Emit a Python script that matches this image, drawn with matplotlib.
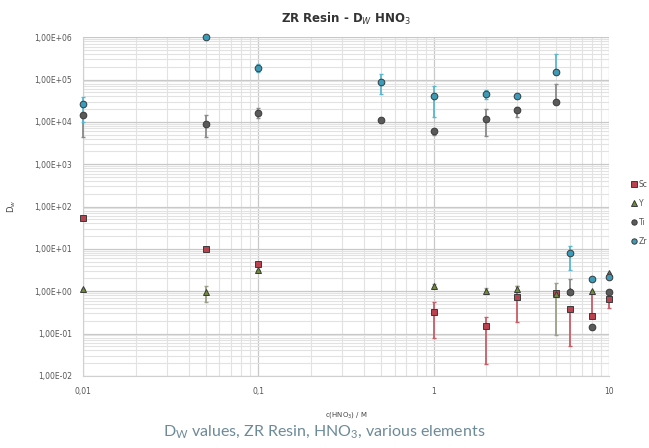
import numpy as np
import matplotlib.pyplot as plt
from matplotlib.ticker import LogLocator, FuncFormatter, FixedLocator

# HNO3 concentration, M
conc = [0.01, 0.05, 0.1, 0.5, 1, 2, 3, 5, 6, 8, 10]
nan = np.nan

# D_w values and error limits per element
sc = [54, 10, 4.3, nan, 0.32, 0.15, 0.73, 0.9, 0.38, 0.26, 0.65]
sc_lo = [54, 10, 4.3, nan, 0.077, 0.019, 0.19, 0.8, 0.05, 0.26, 0.4]
sc_hi = [54, 10, 4.3, nan, 0.55, 0.25, 1.3, 1.0, 0.38, 0.9, 0.9]

y_el = [1.1, 0.95, 3.2, nan, 1.35, 1.0, 1.1, 0.85, 1.0, 1.0, 2.7]
y_lo = [1.1, 0.55, 3.2, nan, 1.2, 0.85, 0.95, 0.093, 1.0, 1.0, 2.7]
y_hi = [1.1, 1.3, 3.2, nan, 1.5, 1.2, 1.3, 1.55, 1.0, 1.0, 2.7]

ti = [1.45e4, 8.9e3, 1.6e4, 1.1e4, 6e3, 1.2e4, 1.9e4, 2.9e4, 0.98, 0.145, 0.95]
ti_lo = [4.4e3, 4.4e3, 1.25e4, 1.1e4, 5e3, 4.6e3, 1.3e4, 2.9e4, 0.98, 0.145, 0.95]
ti_hi = [1.45e4, 1.45e4, 2.1e4, 1.1e4, 6e3, 2e4, 2.3e4, 8e4, 1.9, 0.145, 0.95]

zr = [2.6e4, 9.9e5, 1.9e5, 8.7e4, 4.1e4, 4.5e4, 4.0e4, 1.5e5, 8, 1.95, 2.2]
zr_lo = [1e4, 9.9e5, 1.5e5, 4.5e4, 1.3e4, 3.4e4, 4e4, 1.5e5, 3.2, 1.95, 2.2]
zr_hi = [3.8e4, 9.9e5, 2.3e5, 1.35e5, 6.9e4, 5.6e4, 4e4, 4e5, 12, 1.95, 2.2]

series = [
    ("Sc", sc, sc_lo, sc_hi, "#b8434f", "s", "#c95d68"),
    ("Y", y_el, y_lo, y_hi, "#6f8a3a", "^", "#9aa08a"),
    ("Ti", ti, ti_lo, ti_hi, "#5a5a5a", "o", "#8a8a8a"),
    ("Zr", zr, zr_lo, zr_hi, "#3b9bb8", "o", "#5ab8d2"),
]

fig = plt.figure(figsize=(6.49, 4.48), dpi=100)
ax = fig.add_axes([0.128, 0.161, 0.81, 0.756])

for name, vals, lo, hi, col, mk, ecol in series:
    v = np.array(vals, dtype=float)
    err = [v - np.array(lo), np.array(hi) - v]
    ax.errorbar(conc, v, yerr=err, fmt="none", ecolor=ecol, elinewidth=1.3,
                capsize=1.2, capthick=1, zorder=3, clip_on=False)
    ax.plot(conc, v, linestyle="none", marker=mk, ms=4.8 if mk != "^" else 5,
            mfc=col, mec="#3a3a3a", mew=0.7, zorder=4, label=name, clip_on=False)

ax.set_xscale("log")
ax.set_yscale("log")
ax.set_xlim(0.01, 10)
ax.set_ylim(1e-2, 1e6)

ax.xaxis.set_major_locator(FixedLocator([0.01, 0.1, 1, 10]))
ax.xaxis.set_major_formatter(FuncFormatter(lambda v, p: f"{v:g}".replace(".", ",")))
ax.xaxis.set_minor_locator(LogLocator(base=10, subs=np.arange(2, 10)))
ax.xaxis.set_minor_formatter(FuncFormatter(lambda v, p: ""))
ax.yaxis.set_major_locator(FixedLocator([10.0 ** k for k in range(-2, 7)]))
ax.yaxis.set_major_formatter(FuncFormatter(
    lambda v, p: "1,00E%s%02d" % ("+" if v >= 1 else "-", abs(int(round(np.log10(v)))))))
ax.yaxis.set_minor_locator(LogLocator(base=10, subs=np.arange(2, 10)))
ax.yaxis.set_minor_formatter(FuncFormatter(lambda v, p: ""))

ax.grid(True, which="major", color="#c8c8c8", lw=0.9)
ax.grid(True, which="minor", color="#e2e2e2", lw=0.8)
ax.set_axisbelow(True)
for s in ax.spines.values():
    s.set_visible(False)
ax.spines["left"].set_visible(True)
ax.spines["left"].set_color("#d0d0d0")
ax.spines["bottom"].set_visible(True)
ax.spines["bottom"].set_color("#d0d0d0")
ax.tick_params(which="both", length=0, labelsize=5.5, labelcolor="#555555", pad=8)

ax.set_title(r"ZR Resin - D$_W$ HNO$_3$", fontsize=8.5, fontweight="bold",
             color="#333333", pad=10)
ax.set_xlabel(r"c(HNO$_3$) / M", fontsize=5, color="#444444", labelpad=10)
ax.set_ylabel(r"D$_w$", fontsize=6, color="#444444", labelpad=12)

fig.legend(loc="center left", bbox_to_anchor=(0.962, 0.525), frameon=False,
           fontsize=5.5, handlelength=0.6, handletextpad=0.4, labelspacing=1.3,
           markerscale=0.8, labelcolor="#555555")

fig.text(0.5, 0.035, r"D$_\mathregular{W}$ values, ZR Resin, HNO$_\mathregular{3}$, various elements",
         ha="center", va="center", fontsize=11.5, color="#6d8a98",
         family="Lato")

fig.savefig("out.png", dpi=100)
